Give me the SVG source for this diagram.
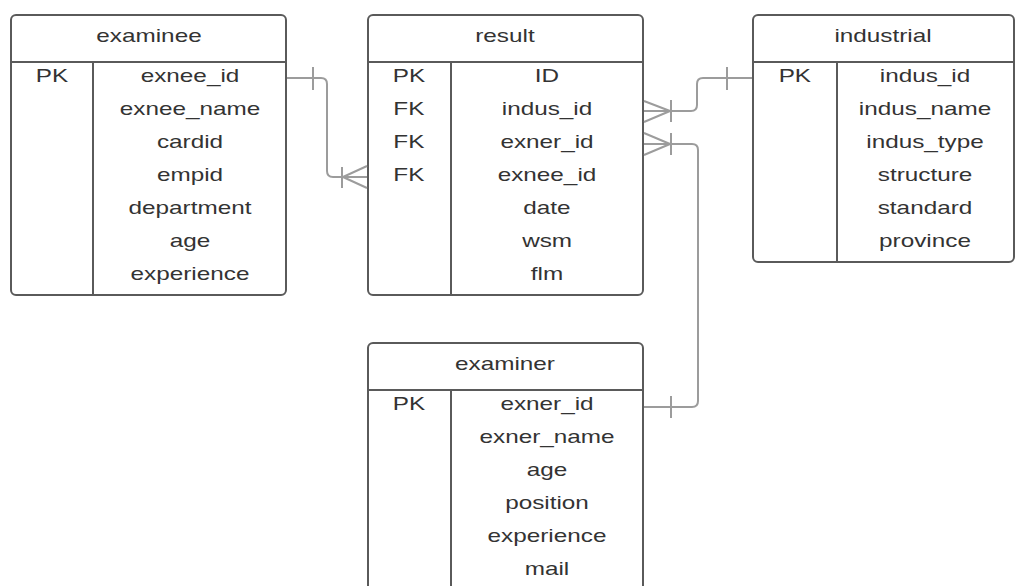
<svg xmlns="http://www.w3.org/2000/svg" width="1017" height="586" viewBox="0 0 1017 586">
  <style>
    .box { fill: #ffffff; stroke: #5a5a5a; stroke-width: 2; }
    .div { stroke: #5a5a5a; stroke-width: 2; fill: none; }
    .t { font-family: "Liberation Sans", Arial, sans-serif; font-size: 18px; fill: #333333; text-anchor: middle;
         transform-box: fill-box; transform-origin: center; transform: scaleX(1.35); }
    .conn { stroke: #9c9c9c; stroke-width: 2; fill: none; stroke-linejoin: round; }
  </style>
  <rect width="1017" height="586" fill="#ffffff"/>

  <!-- examinee table -->
  <g id="examinee">
    <rect class="box" x="11" y="15" width="275" height="280" rx="5"/>
    <line class="div" x1="11" y1="62" x2="286" y2="62"/>
    <line class="div" x1="93" y1="62" x2="93" y2="295"/>
    <text class="t" x="149" y="42">examinee</text>
    <text class="t" x="52" y="82">PK</text>
    <text class="t" x="190" y="82">exnee_id</text>
    <text class="t" x="190" y="115">exnee_name</text>
    <text class="t" x="190" y="148">cardid</text>
    <text class="t" x="190" y="181">empid</text>
    <text class="t" x="190" y="214">department</text>
    <text class="t" x="190" y="247">age</text>
    <text class="t" x="190" y="280">experience</text>
  </g>

  <!-- result table -->
  <g id="result">
    <rect class="box" x="368" y="15" width="275" height="280" rx="5"/>
    <line class="div" x1="368" y1="62" x2="643" y2="62"/>
    <line class="div" x1="451" y1="62" x2="451" y2="295"/>
    <text class="t" x="505" y="42">result</text>
    <text class="t" x="409" y="82">PK</text>
    <text class="t" x="409" y="115">FK</text>
    <text class="t" x="409" y="148">FK</text>
    <text class="t" x="409" y="181">FK</text>
    <text class="t" x="547" y="82">ID</text>
    <text class="t" x="547" y="115">indus_id</text>
    <text class="t" x="547" y="148">exner_id</text>
    <text class="t" x="547" y="181">exnee_id</text>
    <text class="t" x="547" y="214">date</text>
    <text class="t" x="547" y="247">wsm</text>
    <text class="t" x="547" y="280">flm</text>
  </g>

  <!-- industrial table -->
  <g id="industrial">
    <rect class="box" x="753" y="15" width="261" height="247" rx="5"/>
    <line class="div" x1="753" y1="62" x2="1014" y2="62"/>
    <line class="div" x1="837" y1="62" x2="837" y2="262"/>
    <text class="t" x="883" y="42">industrial</text>
    <text class="t" x="795" y="82">PK</text>
    <text class="t" x="925" y="82">indus_id</text>
    <text class="t" x="925" y="115">indus_name</text>
    <text class="t" x="925" y="148">indus_type</text>
    <text class="t" x="925" y="181">structure</text>
    <text class="t" x="925" y="214">standard</text>
    <text class="t" x="925" y="247">province</text>
  </g>

  <!-- examiner table -->
  <g id="examiner">
    <rect class="box" x="368" y="343" width="275" height="260" rx="5"/>
    <line class="div" x1="368" y1="390" x2="643" y2="390"/>
    <line class="div" x1="451" y1="390" x2="451" y2="603"/>
    <text class="t" x="505" y="370">examiner</text>
    <text class="t" x="409" y="410">PK</text>
    <text class="t" x="547" y="410">exner_id</text>
    <text class="t" x="547" y="443">exner_name</text>
    <text class="t" x="547" y="476">age</text>
    <text class="t" x="547" y="509">position</text>
    <text class="t" x="547" y="542">experience</text>
    <text class="t" x="547" y="575">mail</text>
  </g>

  <!-- relationships -->
  <g id="connectors">
    <!-- examinee.exnee_id 1 : N result.exnee_id -->
    <path class="conn" d="M287 78 H321 Q327 78 327 84 V171 Q327 177 333 177 H367"/>
    <line class="conn" x1="313" y1="67" x2="313" y2="90"/>
    <line class="conn" x1="342" y1="167" x2="342" y2="188"/>
    <path class="conn" d="M367 166 L343 177 L367 188"/>

    <!-- industrial.indus_id 1 : N result.indus_id -->
    <path class="conn" d="M644 111 H691 Q697 111 697 105 V84 Q697 78 703 78 H752"/>
    <line class="conn" x1="727" y1="67" x2="727" y2="90"/>
    <line class="conn" x1="671" y1="100" x2="671" y2="122"/>
    <path class="conn" d="M644 101 L670 111 L644 122"/>

    <!-- examiner.exner_id 1 : N result.exner_id -->
    <path class="conn" d="M644 144 H692 Q698 144 698 150 V401 Q698 407 692 407 H644"/>
    <line class="conn" x1="671" y1="133" x2="671" y2="155"/>
    <line class="conn" x1="671" y1="396" x2="671" y2="418"/>
    <path class="conn" d="M644 133 L670 144 L644 155"/>
  </g>
</svg>
